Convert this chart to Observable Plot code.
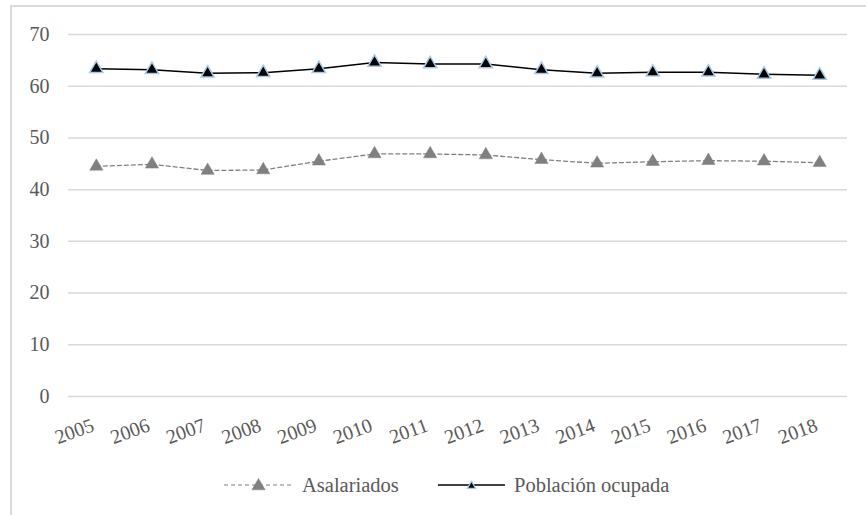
<!DOCTYPE html>
<html>
<head>
<meta charset="utf-8">
<script src="https://cdn.jsdelivr.net/npm/d3@7"></script>
<script src="https://cdn.jsdelivr.net/npm/@observablehq/plot@0.6"></script>
<style>
  html, body { margin: 0; padding: 0; background: #fff; }
  #wrap { position: relative; width: 866px; height: 515px; overflow: hidden; background: #fff; }
  #frame { position: absolute; left: 10px; top: 5px; width: 900px; height: 600px;
           border-left: 2px solid #d9d9d9; border-top: 2px solid #d9d9d9; box-sizing: border-box; }
  #plot { position: absolute; left: 0; top: 0; }
  .leg { position: absolute; top: 472px; height: 26px; display: flex; align-items: center;
         font-family: "Liberation Serif", "Times New Roman", serif; font-size: 20.5px; color: #595959; }
  .leg svg { display: block; margin-right: 9px; }
</style>
</head>
<body>
<div id="wrap">
  <div id="frame"></div>
  <div id="plot"></div>
  <div class="leg" id="leg1" style="left:224px"></div>
  <div class="leg" id="leg2" style="left:438px"></div>
</div>
<script>
const years = ["2005","2006","2007","2008","2009","2010","2011","2012","2013","2014","2015","2016","2017","2018"];
const asalariados = [44.5, 44.9, 43.7, 43.8, 45.5, 46.9, 46.9, 46.7, 45.8, 45.1, 45.4, 45.6, 45.5, 45.2];
const poblacion = [63.4, 63.2, 62.5, 62.6, 63.4, 64.6, 64.3, 64.3, 63.2, 62.5, 62.7, 62.7, 62.3, 62.1];
const yTicks = [0, 10, 20, 30, 40, 50, 60, 70];
const seriesNames = ["Asalariados", "Población ocupada"];

const asalData = years.map((y, i) => ({year: y, value: asalariados[i]}));
const pobData = years.map((y, i) => ({year: y, value: poblacion[i]}));

const font = '"Liberation Serif", "Times New Roman", serif';
const chart = Plot.plot({
  width: 866,
  height: 460,
  marginLeft: 68,
  marginRight: 19,
  marginTop: 34,
  marginBottom: 64,
  style: {fontFamily: font, fontSize: "20px", color: "#595959", background: "transparent", overflow: "visible"},
  x: {type: "point", domain: years, padding: 0.5, round: false, label: null},
  y: {domain: [0, 70], label: null},
  marks: [
    Plot.gridY(yTicks, {stroke: "#d9d9d9", strokeOpacity: 1, strokeWidth: 1.5}),
    Plot.axisY(yTicks, {tickSize: 0, tickPadding: 19, fill: "#595959", fontSize: 20}),
    Plot.axisX({tickSize: 0, tickPadding: 28, tickRotate: -20, dx: -3, fill: "#595959", fontSize: 20}),
    Plot.line(asalData, {x: "year", y: "value", stroke: "#808080", strokeWidth: 1.3, strokeDasharray: "4,3"}),
    Plot.dot(asalData, {x: "year", y: "value", symbol: "triangle", r: 4.9, fill: "#808080", stroke: "#808080", strokeWidth: 0.5}),
    Plot.line(pobData, {x: "year", y: "value", stroke: "#000", strokeWidth: 1.5}),
    Plot.dot(pobData, {x: "year", y: "value", symbol: "triangle", r: 4.9, fill: "#000", stroke: "#aac8e6", strokeWidth: 1.5})
  ]
});
document.getElementById("plot").appendChild(chart);

function swatch(dashed) {
  const w = dashed ? 69 : 67, h = 20;
  const svg = d3.create("svg").attr("width", w).attr("height", h);
  svg.append("line").attr("x1", 0).attr("x2", w).attr("y1", h/2).attr("y2", h/2)
    .attr("stroke", dashed ? "#808080" : "#000").attr("stroke-width", dashed ? 1.2 : 1.5)
    .attr("stroke-dasharray", dashed ? "4,3" : null);
  svg.append("path").attr("d", d3.symbol(d3.symbolTriangle, dashed ? 75 : 30)())
    .attr("transform", `translate(${w/2},${h/2 + 1})`)
    .attr("fill", dashed ? "#808080" : "#000")
    .attr("stroke", dashed ? "#808080" : "#aac8e6").attr("stroke-width", dashed ? 0.5 : 1.2);
  return svg.node();
}
const l1 = document.getElementById("leg1");
l1.appendChild(swatch(true));
l1.appendChild(document.createTextNode(seriesNames[0]));
const l2 = document.getElementById("leg2");
l2.appendChild(swatch(false));
l2.appendChild(document.createTextNode(seriesNames[1]));
</script>
</body>
</html>
